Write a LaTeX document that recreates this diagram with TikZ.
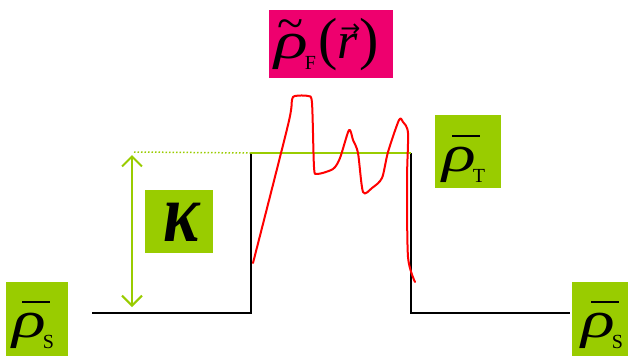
\documentclass[tikz,border=0pt]{standalone}
\usepackage{graphicx}
\usepackage{fontspec}
\setmainfont{Liberation Serif}
\newfontfamily\symf{DejaVu Sans}
\usetikzlibrary{arrows.meta}
\definecolor{lgreen}{RGB}{153,204,0}
\definecolor{hpink}{RGB}{238,0,110}
\newcommand\myrho{\scalebox{1.35}[1]{\fontsize{52}{56}\selectfont\itshape ρ}}
\newcommand\mysub[1]{\raisebox{-11pt}{\fontsize{20}{22}\selectfont #1}}
\newcommand\mybarrho{\rlap{\kern10pt\rule[34pt]{28pt}{2pt}}\myrho}
\begin{document}
\begin{tikzpicture}[x=1pt,y=-1pt,
  box/.style={inner sep=0pt,anchor=north west},
  txt/.style={inner sep=0pt,anchor=base west}]
\useasboundingbox (0,0) rectangle (628,356);
% label boxes
\fill[lgreen] (6,282) rectangle (68,356);
\node[txt] (rsl) at (12,337) {\mybarrho\kern-3pt\mysub{S}};
\fill[lgreen] (572,282) rectangle (628,356);
\node[txt] (rsr) at (581,337) {\mybarrho\kern-3pt\mysub{S}};
\fill[lgreen] (435,115) rectangle (501,188);
\node[txt] (rt) at (442,171) {\mybarrho\kern-3pt\mysub{T}};
\fill[lgreen] (145,190) rectangle (213,253);
\node[inner sep=0pt] (kb) at (182,222) {\scalebox{0.9}[1.1]{\fontsize{76}{80}\selectfont\bfseries\itshape κ}};
\fill[hpink] (269,10) rectangle (393,78);
\node[txt] (rf) at (274,58) {\rlap{\kern3pt\raisebox{19pt}{\fontsize{48}{50}\selectfont\symbol{"7E}}}\myrho\kern-3pt\mysub{F}\kern2pt{\fontsize{58}{60}\selectfont(}\rlap{\kern3pt\raisebox{22pt}{\symf\fontsize{24}{26}\selectfont →}}{\fontsize{52}{56}\selectfont\itshape r}\kern2pt{\fontsize{58}{60}\selectfont)}};
% step profile
\coordinate (a0) at (92,313);
\coordinate (a1) at (251,313);
\coordinate (a2) at (251,153);
\coordinate (a3) at (411,153);
\coordinate (a4) at (411,313);
\coordinate (a5) at (570,313);
\draw[line width=2pt,black,line join=miter] (a0) -- (a1) -- (a2);
\draw[line width=2pt,black,line join=miter] (a3) -- (a4) -- (a5);
\draw[line width=2pt,lgreen] (a2) -- (a3);
\coordinate (d0) at (134,152);
\draw[line width=1.5pt,lgreen,dotted] (d0) -- (a2);
% kappa arrow
\coordinate (k1) at (132,155);
\coordinate (k2) at (132,307);
\draw[line width=2pt,lgreen,{Straight Barb[length=10pt,width=20pt]}-{Straight Barb[length=10pt,width=20pt]}] (k1) -- (k2);
% red density curve
\draw[line width=2pt,red,line join=round,line cap=round]
 plot[smooth,tension=0.45] coordinates {
 (253,263) (288,125) (292,100) (295,96) (308,96) (312,103) (314,167)
 (317,174) (333,169) (340,158) (349,130) (353,140) (358,153) (363,192)
 (372,188) (382,178) (388,152) (399,120) (403,122) (408,133) (407,180)
 (408,257) (415,282)};
\end{tikzpicture}
\end{document}
